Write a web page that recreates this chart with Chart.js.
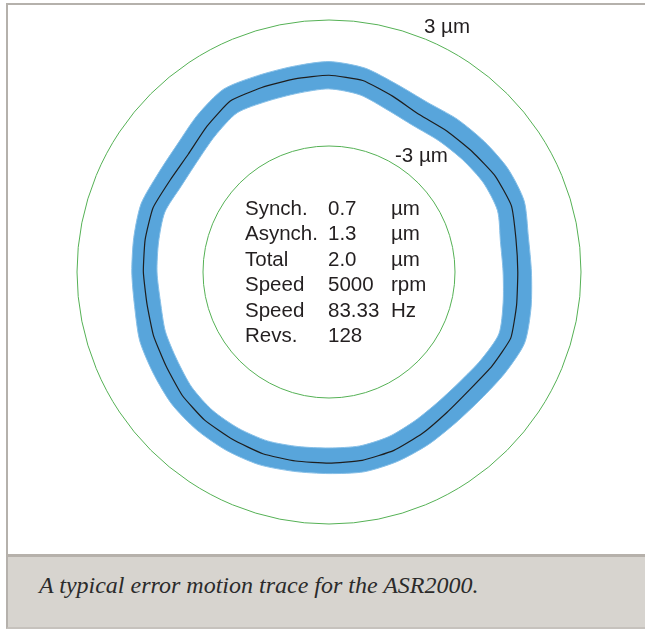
<!DOCTYPE html>
<html>
<head>
<meta charset="utf-8">
<script src="https://cdn.jsdelivr.net/npm/chart.js@4.4.1/dist/chart.umd.min.js"></script>
<style>
    html, body { margin: 0; padding: 0; background: #fff; overflow: hidden; }
    body { width: 645px; height: 629px; position: relative; }
    #panel {
        position: absolute; left: 6px; top: 3px; width: 637px; height: 549px;
        border-left: 2px solid #b5b1ac; border-top: 2px solid #b5b1ac; background: #fff;
    }
    #plot { position: absolute; left: 8px; top: 5px; }
    #caption {
        position: absolute; left: 6px; top: 554px; width: 637px; height: 70px;
        background: #d7d4cf; border-top: 3px solid #b6b1ab; border-left: 2px solid #b5b1ac;
        border-bottom: 2px solid #c6c2bd;
    }
    #caption span {
        position: absolute; left: 31px; top: 15px; line-height: 24px; white-space: nowrap;
        font: italic 24px "Liberation Serif", "Times New Roman", serif; color: #2b2b2b;
    }
</style>
</head>
<body>
<div id="panel"></div>
<canvas id="plot" width="637" height="549"></canvas>
<div id="caption"><span>A typical error motion trace for the ASR2000.</span></div>

<script>
// angles in degrees, clockwise from the top
const angles = ['0', '10', '20', '30', '40', '50', '60', '70', '80', '90', '100', '110',
    '120', '130', '140', '150', '160', '170', '180', '190', '200', '210', '220', '230',
    '240', '250', '260', '270', '280', '290', '300', '310', '320', '330', '340', '350'];

// average (synchronous) error motion, µm
const meanTrace = [0.37, 0.26, -0.10, -0.36, -0.25, -0.09, 0.14, 0.24, 0.04, -0.01, 0.07, 0.21,
    -0.04, -0.27, -0.27, -0.12, 0.04, 0.11, 0.10, 0.14, 0.21, 0.20, 0.21, 0.13,
    -0.04, -0.11, -0.20, -0.16, -0.11, -0.08, -0.26, -0.26, 0.05, 0.40, 0.35, 0.34];

// outer and inner edge of the 128 revolutions, µm
const bandOuter = [1.02, 0.86, 0.50, 0.34, 0.50, 0.66, 0.84, 0.89, 0.64, 0.64, 0.77, 0.91,
    0.66, 0.43, 0.38, 0.48, 0.59, 0.66, 0.60, 0.64, 0.76, 0.80, 0.81, 0.78,
    0.66, 0.59, 0.40, 0.39, 0.44, 0.52, 0.39, 0.44, 0.75, 1.05, 0.95, 0.94];
const bandInner = [-0.28, -0.44, -0.80, -0.96, -0.85, -0.69, -0.51, -0.46, -0.71, -0.71, -0.58, -0.39,
    -0.64, -0.87, -0.92, -0.82, -0.66, -0.59, -0.62, -0.56, -0.44, -0.40, -0.39, -0.47,
    -0.64, -0.71, -0.85, -0.81, -0.76, -0.68, -0.86, -0.81, -0.55, -0.25, -0.35, -0.36];

// reference circles
const ringValues = [-3, 3];
const ringLabels = ['-3 µm', '3 µm'];

// results table
const statNames = ['Synch.', 'Asynch.', 'Total', 'Speed', 'Speed', 'Revs.'];
const statValues = ['0.7', '1.3', '2.0', '5000', '83.33', '128'];
const statUnits = ['µm', 'µm', 'µm', 'rpm', 'Hz', ''];

const textFont = '20.5px "Liberation Sans", Arial, sans-serif';

// labels of the circles and the results table in the middle
const overlayText = {
    id: 'overlayText',
    afterDatasetsDraw(chart) {
        const scale = chart.scales.r;
        const ctx = chart.ctx;
        const cx = scale.xCenter;
        const cy = scale.yCenter;
        ctx.save();
        ctx.fillStyle = '#231f20';
        ctx.font = textFont;
        ctx.textAlign = 'left';
        ctx.textBaseline = 'alphabetic';

        const ringOffsets = [{ dx: 66, dy: 16 }, { dx: 95, dy: 13 }];
        ringLabels.forEach((txt, i) => {
            const d = scale.getDistanceFromCenterForValue(ringValues[i]);
            ctx.fillText(txt, cx + ringOffsets[i].dx, cy - d + ringOffsets[i].dy);
        });

        statNames.forEach((name, i) => {
            const y = cy - 57 + i * 25.4;
            ctx.fillText(name, cx - 84, y);
            ctx.fillText(statValues[i], cx - 1, y);
            ctx.fillText(statUnits[i], cx + 62, y);
        });
        ctx.restore();
    }
};

new Chart(document.getElementById('plot').getContext('2d'), {
    type: 'radar',
    data: {
        labels: angles,
        datasets: [{
            label: 'Average',
            data: meanTrace,
            borderColor: '#1e1e1e',
            borderWidth: 1.2,
            fill: false,
            tension: 0.15
        }, {
            label: 'Outer',
            data: bandOuter,
            borderColor: '#86bfe7',
            borderWidth: 1,
            backgroundColor: '#58a5db',
            fill: '+1',
            tension: 0.25
        }, {
            label: 'Inner',
            data: bandInner,
            borderColor: '#86bfe7',
            borderWidth: 1,
            fill: false,
            tension: 0.25
        }]
    },
    options: {
        responsive: false,
        animation: false,
        layout: {
            padding: { left: 69, right: 64, top: 15, bottom: 30 }
        },
        elements: {
            point: { radius: 0, hoverRadius: 0 }
        },
        plugins: {
            legend: { display: false },
            tooltip: { enabled: false },
            filler: { drawTime: 'beforeDatasetsDraw' }
        },
        scales: {
            r: {
                min: -9,
                max: 3,
                startAngle: 0,
                afterBuildTicks: (scale) => {
                    scale.ticks = ringValues.map(v => ({ value: v }));
                },
                ticks: { display: false },
                pointLabels: { display: false },
                angleLines: { display: false },
                grid: {
                    circular: true,
                    color: '#55b155',
                    lineWidth: 1
                }
            }
        }
    },
    plugins: [overlayText]
});
</script>
</body>
</html>
